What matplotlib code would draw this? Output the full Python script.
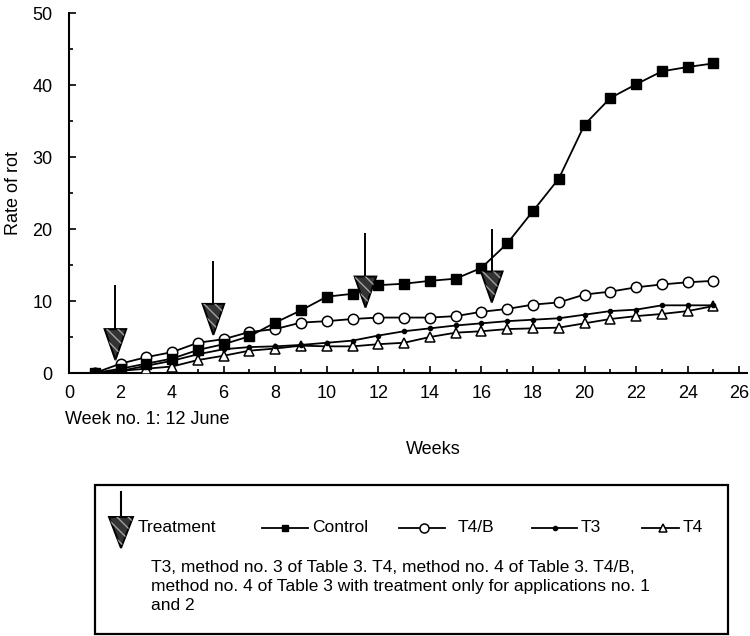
import numpy as np
import matplotlib
matplotlib.use("Agg")
from matplotlib import pyplot as plt
from matplotlib.patches import Polygon, Rectangle

plt.rcParams['font.family'] = ['Liberation Sans', 'DejaVu Sans']

weeks = list(range(1, 26))
control = [0, 0.6, 1.3, 2.0, 3.2, 4.0, 5.1, 7.0, 8.7, 10.6, 11.0, 12.2, 12.4,
           12.8, 13.1, 14.6, 18.0, 22.5, 27.0, 34.5, 38.2, 40.1, 41.9, 42.5, 43.0]
t4b = [0, 1.3, 2.2, 2.9, 4.2, 4.7, 5.7, 6.1, 7.0, 7.2, 7.5, 7.7, 7.7,
       7.7, 7.9, 8.5, 8.9, 9.5, 9.8, 10.9, 11.3, 11.9, 12.3, 12.6, 12.8]
t3 = [0, 0.3, 1.0, 1.7, 2.6, 3.3, 3.6, 3.7, 3.9, 4.2, 4.5, 5.2, 5.8,
      6.2, 6.6, 6.9, 7.2, 7.4, 7.6, 8.1, 8.6, 8.8, 9.4, 9.4, 9.4]
t4 = [0, 0.3, 0.6, 0.9, 1.8, 2.4, 3.1, 3.4, 3.8, 3.7, 3.7, 4.0, 4.2,
      5.0, 5.6, 5.8, 6.1, 6.2, 6.3, 6.9, 7.5, 7.9, 8.2, 8.6, 9.3]

# treatment applications: week, top of the shaft, tip of the arrow head
treat_weeks = [1.8, 5.6, 11.5, 16.4]
treat_top = [12.2, 15.6, 19.5, 20.0]
treat_tip = [1.8, 5.3, 9.1, 9.8]

x_ticks = list(range(0, 27, 2))
y_ticks = list(range(0, 51, 10))

note_lines = ['T3, method no. 3 of Table 3. T4, method no. 4 of Table 3. T4/B,',
              'method no. 4 of Table 3 with treatment only for applications no. 1',
              'and 2']

W, H = 750, 636
FS = 13
fig = plt.figure(figsize=(W / 100, H / 100), dpi=100)
ax = fig.add_axes([69 / W, 1 - 373 / H, (747 - 69) / W, (373 - 13) / H])

lw = 1.3
ax.plot(weeks, t4, color='black', lw=lw, marker='^', ms=7, mfc='white', mec='black', mew=1.1, zorder=3)
ax.plot(weeks, t3, color='black', lw=lw, marker='o', ms=3, mfc='black', mec='black', zorder=4)
ax.plot(weeks, t4b, color='black', lw=lw, marker='o', ms=7.5, mfc='white', mec='black', mew=1.1, zorder=5)
ax.plot(weeks, control, color='black', lw=lw, marker='s', ms=6.5, mfc='black', mec='black', zorder=6)


def draw_arrow(a, x, top, tip, half_w, head_h, lw=1.4, z=8):
    a.plot([x, x], [top, tip + head_h], color='black', lw=lw, zorder=z, solid_capstyle='butt')
    pts = [[x - half_w, tip + head_h], [x + half_w, tip + head_h], [x, tip]]
    a.add_patch(Polygon(pts, closed=True, facecolor='#333333', edgecolor='black', lw=1.4, zorder=z))
    a.add_patch(Polygon(pts, closed=True, fill=False, hatch='\\\\\\', edgecolor='#a0a0a0', lw=0, zorder=z + 0.1))


for x, top, tip in zip(treat_weeks, treat_top, treat_tip):
    draw_arrow(ax, x, top, tip, 0.42, 4.3)

ax.set_xlim(0, 26.3)
ax.set_ylim(0, 50)
ax.set_xticks(x_ticks)
ax.set_xticks(range(0, 27), minor=True)
ax.set_yticks(y_ticks)
ax.set_yticks(range(0, 51, 5), minor=True)
ax.tick_params(direction='in', length=5, width=1.2, labelsize=FS)
ax.tick_params(which='minor', direction='in', length=3, width=1.2)
ax.tick_params(axis='x', pad=9)
ax.tick_params(axis='y', pad=12)
for side in ['top', 'right']:
    ax.spines[side].set_visible(False)
for side in ['left', 'bottom']:
    ax.spines[side].set_linewidth(1.5)

fig.text(13 / W, 1 - 193 / H, 'Rate of rot', rotation=90, fontsize=FS, ha='center', va='center')
fig.text(433 / W, 1 - 450 / H, 'Weeks', fontsize=FS, ha='center', va='center')
fig.text(65 / W, 1 - 420 / H, 'Week no. 1: 12 June', fontsize=FS, ha='left', va='center')

# key box below the plot, laid out in pixel units
lax = fig.add_axes([0, 0, 1, 1], zorder=-1)
lax.set_xlim(0, W)
lax.set_ylim(H, 0)
lax.axis('off')
lax.add_patch(Rectangle((95, 485), 633, 149, fill=False, edgecolor='black', lw=1.6))

row_y = 528
draw_arrow(lax, 121, 491, 548, 12, -31, lw=1.5)
lax.text(138, row_y, 'Treatment', fontsize=12.5, va='center', ha='left')

keys = [
    (262, 308, 285, 'Control', dict(marker='s', ms=5, mfc='black', mec='black')),
    (399, 445, 424, 'T4/B', dict(marker='o', ms=6.5, mfc='white', mec='black', mew=1.1)),
    (532, 577, 555, 'T3', dict(marker='o', ms=3, mfc='black', mec='black')),
    (642, 679, 663, 'T4', dict(marker='^', ms=6, mfc='white', mec='black', mew=1.1)),
]
for x0, x1, xm, name, style in keys:
    lax.plot([x0, x1], [row_y, row_y], color='black', lw=1.3)
    lax.plot([xm], [row_y], **style)
    lax.text(x1 + 4 if name != 'T4/B' else x1 + 13, row_y, name, fontsize=12.5, va='center', ha='left')

for i, line in enumerate(note_lines):
    lax.text(151, 567 + 19 * i, line, fontsize=12.5, va='center', ha='left')

fig.savefig('out.png', dpi=100, facecolor='white')
